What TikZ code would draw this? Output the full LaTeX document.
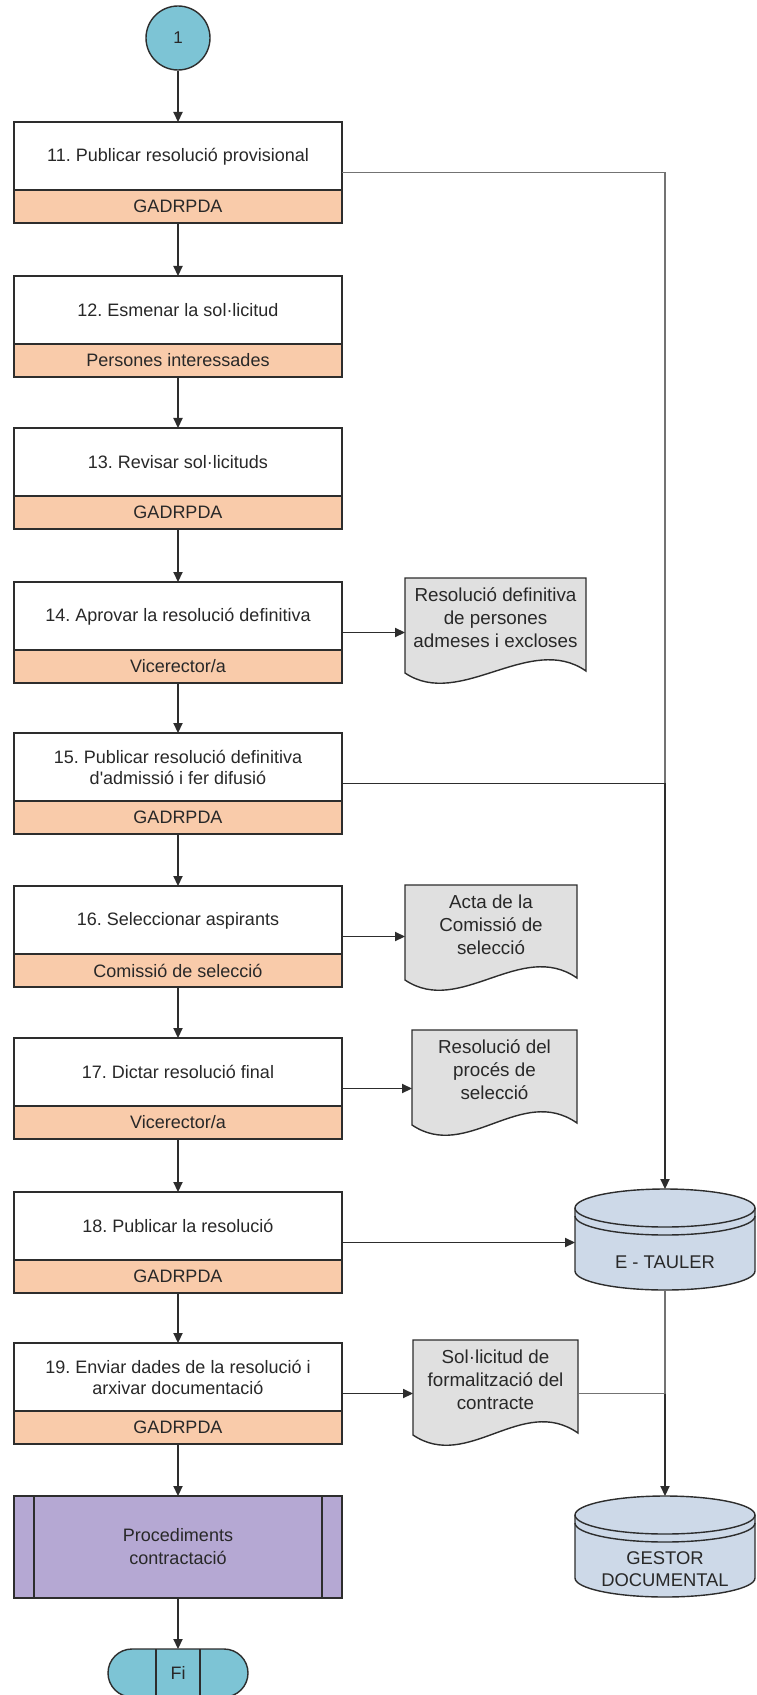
\documentclass[tikz,border=0pt]{standalone}
\usepackage{fontspec}
\setmainfont{Liberation Sans}
\usetikzlibrary{arrows.meta,shapes.misc,backgrounds,positioning}
\frenchspacing

\definecolor{lnc}{RGB}{45,45,45}
\definecolor{txt}{RGB}{40,40,40}
\definecolor{termblue}{RGB}{125,196,213}
\definecolor{rolefill}{RGB}{249,203,170}
\definecolor{subfill}{RGB}{181,168,211}
\definecolor{dbfill}{RGB}{205,217,232}
\definecolor{docfill}{RGB}{224,224,224}

\tikzset{
  box/.style={draw=lnc, line width=0.7pt, fill=white, minimum width=164pt,
    minimum height=50.5pt, inner sep=0pt, outer sep=0pt},
  title/.style={minimum width=164pt, minimum height=34pt, inner sep=0pt,
    align=center, text=txt, font=\fontsize{9}{10.5}\selectfont},
  role/.style={draw=lnc, line width=0.7pt, fill=rolefill, minimum width=164pt,
    minimum height=16.5pt, inner sep=0pt, outer sep=0pt, text=txt,
    font=\fontsize{9}{10.5}\selectfont},
  doc/.style={minimum height=40pt, inner sep=0pt, outer sep=0pt, align=center,
    text=txt, font=\fontsize{9.4}{11.5}\selectfont},
  docline/.style={draw=lnc, line width=0.7pt, fill=docfill},
  db/.style={minimum width=90pt, minimum height=27.5pt, inner sep=0pt,
    outer sep=0pt, align=center, text=txt, font=\fontsize{9.2}{11}\selectfont},
  dbline/.style={draw=lnc, line width=0.7pt},
  conn/.style={circle, draw=lnc, line width=0.7pt, fill=termblue,
    minimum size=32pt, inner sep=0pt, text=txt, font=\fontsize{8.5}{10}\selectfont},
  term/.style={rounded rectangle, draw=lnc, line width=0.7pt, fill=termblue,
    minimum width=70pt, minimum height=24pt, inner sep=0pt, outer sep=0pt,
    text=txt, font=\fontsize{9}{10}\selectfont},
  subproc/.style={draw=lnc, line width=0.7pt, fill=subfill, minimum width=164pt,
    minimum height=51pt, inner sep=0pt, outer sep=0pt, align=center, text=txt,
    font=\fontsize{9}{11.5}\selectfont},
  arr/.style={draw=lnc, line width=0.6pt, -{Triangle[length=5pt,width=4.6pt]}},
  link/.style={draw=lnc, line width=0.6pt},
  graylink/.style={draw=black!55, line width=0.6pt}
}

\newcommand{\docdraw}[1]{%
  \begin{pgfonlayer}{background}
    \filldraw[docline] (#1.north west) -- (#1.north east) -- ([yshift=-6.5pt]#1.south east)
      .. controls ([xshift=-28pt,yshift=13pt]#1.south east) and ([xshift=27.5pt,yshift=-26pt]#1.south west)
      .. ([yshift=-7.5pt]#1.south west) -- cycle;
  \end{pgfonlayer}}

\newcommand{\dbdraw}[1]{%
  \begin{pgfonlayer}{background}
    \filldraw[dbline, fill=dbfill] ([yshift=13.5pt]#1.north west) -- ([yshift=9.5pt]#1.south west)
      arc[start angle=180, end angle=360, x radius=45pt, y radius=9.5pt]
      -- ([yshift=13.5pt]#1.north east)
      arc[start angle=0, end angle=180, x radius=45pt, y radius=9.5pt] -- cycle;
    \draw[dbline] ([yshift=13.5pt]#1.north west)
      arc[start angle=180, end angle=360, x radius=45pt, y radius=9.5pt];
    \draw[dbline] ([yshift=9.5pt]#1.north west)
      arc[start angle=180, end angle=360, x radius=45pt, y radius=9.5pt];
  \end{pgfonlayer}}

\begin{document}
\begin{tikzpicture}[x=0.5pt,y=-0.5pt]

\useasboundingbox (0,0) rectangle (756,1695);

% start connector
\node[conn] (c1) at (178,38) {1};

% steps
\node[box] (s11) at (178, 172.5) {};
\node[box] (s12) at (178, 326.5) {};
\node[box] (s13) at (178, 478.5) {};
\node[box] (s14) at (178, 632.5) {};
\node[box] (s15) at (178, 783.5) {};
\node[box] (s16) at (178, 936.5) {};
\node[box] (s17) at (178,1088.5) {};
\node[box] (s18) at (178,1242.5) {};
\node[box] (s19) at (178,1393.5) {};

\node[title, anchor=north] (t11) at (s11.north) {11. Publicar resolució provisional};
\node[title, anchor=north] (t12) at (s12.north) {12. Esmenar la sol·licitud};
\node[title, anchor=north] (t13) at (s13.north) {13. Revisar sol·licituds};
\node[title, anchor=north] (t14) at (s14.north) {14. Aprovar la resolució definitiva};
\node[title, anchor=north] (t15) at (s15.north) {15. Publicar resolució definitiva\\d\textquotesingle admissió i fer difusió};
\node[title, anchor=north] (t16) at (s16.north) {16. Seleccionar aspirants};
\node[title, anchor=north] (t17) at (s17.north) {17. Dictar resolució final};
\node[title, anchor=north] (t18) at (s18.north) {18. Publicar la resolució};
\node[title, anchor=north] (t19) at (s19.north) {19. Enviar dades de la resolució i\\arxivar documentació};

\node[role, anchor=south] (r11) at (s11.south) {GADRPDA};
\node[role, anchor=south] (r12) at (s12.south) {Persones interessades};
\node[role, anchor=south] (r13) at (s13.south) {GADRPDA};
\node[role, anchor=south] (r14) at (s14.south) {Vicerector/a};
\node[role, anchor=south] (r15) at (s15.south) {GADRPDA};
\node[role, anchor=south] (r16) at (s16.south) {Comissió de selecció};
\node[role, anchor=south] (r17) at (s17.south) {Vicerector/a};
\node[role, anchor=south] (r18) at (s18.south) {GADRPDA};
\node[role, anchor=south] (r19) at (s19.south) {GADRPDA};

% sub-process and end
\node[subproc] (pc) at (178,1547) {Procediments\\contractació};
\draw[link] ([xshift=10pt]pc.north west) -- ([xshift=10pt]pc.south west);
\draw[link] ([xshift=-10pt]pc.north east) -- ([xshift=-10pt]pc.south east);

\node[term] (fi) at (178,1673) {Fi};
\draw[link] ([xshift=12pt]fi.north west) -- ([xshift=12pt]fi.south west);
\draw[link] ([xshift=-12pt]fi.north east) -- ([xshift=-12pt]fi.south east);

% documents
\node[doc, minimum width=90.5pt] (d14) at (495.5, 618) {Resolució definitiva\\de persones\\admeses i excloses};
\node[doc, minimum width=86pt]   (d16) at (491, 925) {Acta de la\\Comissió de\\selecció};
\node[doc, minimum width=82.5pt] (d17) at (494.5,1070) {Resolució del\\procés de\\selecció};
\node[doc, minimum width=82.5pt] (d19) at (495.5,1380) {Sol·licitud de\\formalització del\\contracte};
\docdraw{d14}
\docdraw{d16}
\docdraw{d17}
\docdraw{d19}

% stores
\node[db] (et) at (665,1262.5) {E - TAULER};
\node[db] (gd) at (665,1569.5) {GESTOR\\DOCUMENTAL};
\dbdraw{et}
\dbdraw{gd}
\coordinate (ettop) at ([yshift=23pt]et.north);
\coordinate (gdtop) at ([yshift=23pt]gd.north);

% main flow
\draw[arr] (c1) -- (s11);
\draw[arr] (s11) -- (s12);
\draw[arr] (s12) -- (s13);
\draw[arr] (s13) -- (s14);
\draw[arr] (s14) -- (s15);
\draw[arr] (s15) -- (s16);
\draw[arr] (s16) -- (s17);
\draw[arr] (s17) -- (s18);
\draw[arr] (s18) -- (s19);
\draw[arr] (s19) -- (pc);
\draw[arr] (pc) -- (fi);

% outputs
\draw[arr] (s14.east) -- (s14.east -| d14.west);
\draw[arr] (s16.east) -- (s16.east -| d16.west);
\draw[arr] (s17.east) -- (s17.east -| d17.west);
\draw[arr] (s19.east) -- (s19.east -| d19.west);

\coordinate (j1) at (s11.east -| ettop);
\coordinate (j2) at (s15.east -| ettop);
\coordinate (j3) at (s19.east -| gdtop);
\draw[graylink] (s11.east) -- (j1) -- (j2);
\draw[arr] (s15.east) -- (j2) -- (ettop);
\draw[arr] (s18.east) -- (s18.east -| et.west);
\draw[graylink] (et.south) -- (j3);
\draw[graylink] (s19.east -| d19.east) -- (j3);
\draw[arr] (j3) -- (gdtop);

\end{tikzpicture}
\end{document}
